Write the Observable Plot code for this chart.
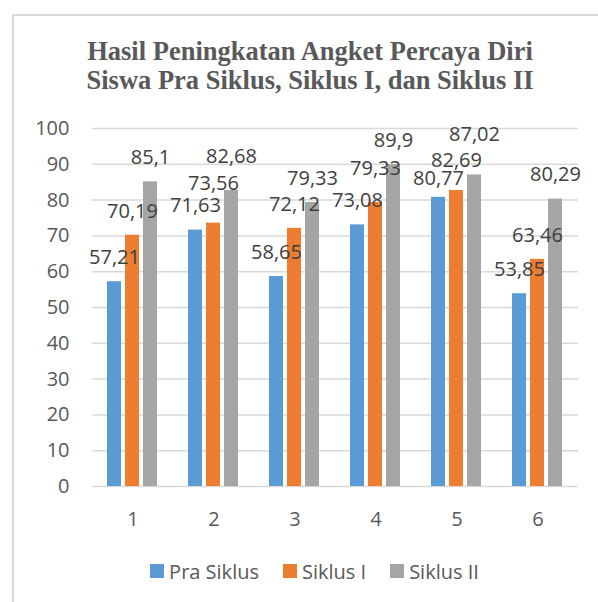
<!DOCTYPE html>
<html>
<head>
<meta charset="utf-8">
<script src="https://cdn.jsdelivr.net/npm/d3@7"></script>
<script src="https://cdn.jsdelivr.net/npm/@observablehq/plot@0.6"></script>
<style>
  html, body { margin: 0; padding: 0; background: #fff; }
  #page { position: relative; width: 598px; height: 602px; overflow: hidden; background: #fff; }
  #frame { position: absolute; left: 12px; top: 14px; width: 700px; height: 700px; border: 2px solid #d9d9d9; box-sizing: border-box; }
  #title { position: absolute; left: 0; top: 37px; width: 620px; text-align: center;
    font-family: "Liberation Serif", "Times New Roman", serif; font-weight: bold; font-size: 26.5px;
    line-height: 28.6px; color: #595959; }
  #chart { position: absolute; left: 0; top: 100px; }
  #legend { position: absolute; left: 0; top: 557px; width: 629px; height: 28px; display: flex;
    justify-content: center; align-items: center; font-family: "Open Sans", sans-serif; font-size: 20px; color: #595959; }
  .item { display: flex; align-items: center; margin: 0 12px; }
  .sw { width: 14px; height: 14px; margin-right: 5px; }
</style>
</head>
<body>
<div id="page">
  <div id="frame"></div>
  <div id="title">Hasil Peningkatan Angket Percaya Diri<br>Siswa Pra Siklus, Siklus I, dan Siklus II</div>
  <div id="chart"></div>
  <div id="legend"></div>
</div>
<script>
const categories = ["1", "2", "3", "4", "5", "6"];
const series = ["Pra Siklus", "Siklus I", "Siklus II"];
const praSiklus = [57.21, 71.63, 58.65, 73.08, 80.77, 53.85];
const siklusI = [70.19, 73.56, 72.12, 79.33, 82.69, 63.46];
const siklusII = [85.1, 82.68, 79.33, 89.9, 87.02, 80.29];
const yTicks = [0, 10, 20, 30, 40, 50, 60, 70, 80, 90, 100];
const colors = ["#5b9bd5", "#ed7d31", "#a5a5a5"];

const seriesValues = [praSiklus, siklusI, siklusII];
const data = [];
categories.forEach((c, i) => {
  series.forEach((s, j) => data.push({cat: c, series: s, value: seriesValues[j][i]}));
});

// label placement nudges (pixels above the bar top), as in the reference
const defaultLift = 24;
const labelLift = {"2|Siklus I": 40, "2|Siklus II": 34, "4|Siklus I": 34, "5|Pra Siklus": 19, "5|Siklus I": 30, "5|Siklus II": 40};
const liftOf = d => labelLift[d.cat + "|" + d.series] ?? defaultLift;
const lifts = [...new Set(data.map(liftOf))];
const fmt = v => String(v).replace(".", ",");

const textMarks = lifts.map(l => Plot.text(data.filter(d => liftOf(d) === l), {
  fx: "cat", x: "series", y: "value", text: d => fmt(d.value), dy: -l,
  fontSize: 20, fill: "#404040"
}));

const plot = Plot.plot({
  width: 598,
  height: 431,
  marginTop: 28,
  marginBottom: 45,
  marginLeft: 89,
  marginRight: 18,
  style: {fontFamily: "'Open Sans', sans-serif", fontSize: "20px", color: "#595959", background: "transparent"},
  fx: {domain: categories, padding: 0, label: null},
  x: {domain: series, paddingInner: 0.22, paddingOuter: 0.857, axis: null},
  y: {domain: [0, 100], label: null},
  color: {domain: series, range: colors},
  marks: [
    Plot.gridY(yTicks, {stroke: "#d9d9d9", strokeOpacity: 1, strokeWidth: 1.5}),
    Plot.barY(data, {fx: "cat", x: "series", y: "value", fill: "series"}),
    ...textMarks,
    Plot.axisY(yTicks, {tickSize: 0, tickPadding: 23, fontSize: 20, fill: "#595959", label: null}),
    Plot.axisFx({anchor: "bottom", tickSize: 0, tickPadding: 25, fontSize: 20, fill: "#595959", label: null})
  ]
});
document.getElementById("chart").appendChild(plot);

const color = plot.scale("color");
const legend = document.getElementById("legend");
color.domain.forEach((s, i) => {
  const item = document.createElement("div");
  item.className = "item";
  const sw = document.createElement("div");
  sw.className = "sw";
  sw.style.background = color.range[i];
  const t = document.createElement("span");
  t.textContent = s;
  item.appendChild(sw);
  item.appendChild(t);
  legend.appendChild(item);
});
</script>
</body>
</html>
